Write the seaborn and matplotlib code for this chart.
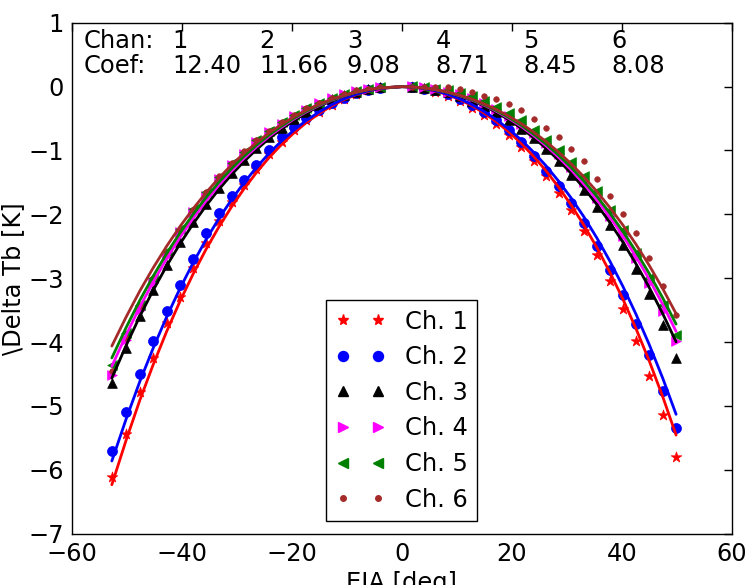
import numpy as np
import pandas as pd
import matplotlib
matplotlib.use("Agg")
import matplotlib.pyplot as plt
from matplotlib.lines import Line2D
import seaborn as sns

# ---------------- data ----------------
angles = [-52.8, -50.2, -47.7, -45.3, -42.8, -40.4, -38.0, -35.7, -33.3, -31.0, -28.8,
          -26.5, -24.2, -21.9, -19.6, -17.4, -15.1, -12.8, -10.6, -8.4, -6.2, -4.0,
          1.8, 4.0, 6.1, 8.3, 10.5, 12.7, 14.9, 17.2, 19.5, 21.7, 24.0, 26.2, 28.5,
          30.8, 33.1, 35.5, 37.8, 40.2, 42.6, 45.0, 47.5, 49.9]

ch1 = [-6.12, -5.44, -4.79, -4.25, -3.71, -3.29, -2.84, -2.45, -2.10, -1.80, -1.54,
       -1.29, -1.06, -0.87, -0.68, -0.53, -0.39, -0.28, -0.19, -0.12, -0.06, -0.02,
       -0.01, -0.03, -0.08, -0.14, -0.22, -0.33, -0.44, -0.59, -0.76, -0.95, -1.16,
       -1.40, -1.66, -1.93, -2.26, -2.63, -3.04, -3.49, -3.98, -4.53, -5.15, -5.80]
ch2 = [-5.70, -5.09, -4.50, -3.98, -3.51, -3.11, -2.70, -2.30, -1.98, -1.71, -1.46,
       -1.22, -1.00, -0.79, -0.63, -0.49, -0.36, -0.25, -0.17, -0.10, -0.05, -0.02,
       -0.01, -0.03, -0.06, -0.12, -0.19, -0.28, -0.39, -0.52, -0.68, -0.86, -1.09,
       -1.32, -1.56, -1.83, -2.13, -2.50, -2.87, -3.27, -3.72, -4.20, -4.77, -5.35]
ch3 = [-4.64, -4.10, -3.60, -3.18, -2.79, -2.44, -2.12, -1.84, -1.58, -1.35, -1.15,
       -0.96, -0.79, -0.64, -0.51, -0.39, -0.29, -0.20, -0.13, -0.08, -0.04, -0.01,
       0.00, -0.02, -0.05, -0.09, -0.15, -0.22, -0.30, -0.40, -0.52, -0.66, -0.81,
       -0.98, -1.17, -1.38, -1.62, -1.89, -2.17, -2.48, -2.85, -3.25, -3.74, -4.25]
ch4 = [-4.51, -3.97, -3.50, -3.07, -2.65, -2.28, -1.97, -1.71, -1.45, -1.23, -1.05,
       -0.87, -0.71, -0.58, -0.46, -0.36, -0.26, -0.18, -0.12, -0.07, -0.04, -0.01,
       0.01, -0.01, -0.04, -0.08, -0.12, -0.18, -0.26, -0.35, -0.46, -0.58, -0.72,
       -0.88, -1.06, -1.26, -1.49, -1.75, -2.03, -2.34, -2.68, -3.07, -3.52, -3.98]
ch5 = [-4.36, -3.86, -3.42, -2.99, -2.58, -2.23, -1.92, -1.65, -1.41, -1.19, -1.02,
       -0.84, -0.69, -0.56, -0.44, -0.34, -0.25, -0.18, -0.12, -0.07, -0.04, -0.01,
       0.01, 0.00, -0.03, -0.06, -0.10, -0.15, -0.22, -0.32, -0.42, -0.52, -0.68,
       -0.83, -0.99, -1.18, -1.40, -1.64, -1.93, -2.25, -2.60, -3.00, -3.42, -3.89]
ch6 = [-4.46, -3.93, -3.43, -3.00, -2.61, -2.25, -1.93, -1.65, -1.40, -1.19, -1.01,
       -0.84, -0.69, -0.56, -0.44, -0.34, -0.25, -0.17, -0.11, -0.06, -0.03, -0.01,
       0.00, 0.00, 0.00, -0.01, -0.04, -0.09, -0.14, -0.20, -0.27, -0.37, -0.51,
       -0.64, -0.79, -0.97, -1.17, -1.44, -1.72, -2.00, -2.30, -2.69, -3.12, -3.58]

channels = ["1", "2", "3", "4", "5", "6"]
coefs = [12.40, 11.66, 9.08, 8.71, 8.45, 8.08]
labels = ["Ch. 1", "Ch. 2", "Ch. 3", "Ch. 4", "Ch. 5", "Ch. 6"]

# normalized shape of the fitted curves (per unit coefficient)
fit_angles = [-52.8, -50.2, -47.7, -45.3, -42.8, -40.4, -38.0, -35.7, -33.3, -31.0, -28.8,
              -26.5, -24.2, -21.9, -19.6, -17.4, -15.1, -12.8, -10.6, -8.4, -6.2, -4.0,
              0.0, 1.8, 4.0, 6.1, 8.3, 10.5, 12.7, 14.9, 17.2, 19.5, 21.7, 24.0, 26.2,
              28.5, 30.8, 33.1, 35.5, 37.8, 40.2, 42.6, 45.0, 47.5, 49.9]
fit_shape = [0.5029, 0.4466, 0.3960, 0.3517, 0.3089, 0.2712, 0.2366, 0.2061, 0.1770,
             0.1517, 0.1296, 0.1087, 0.0897, 0.0730, 0.0580, 0.0454, 0.0341, 0.0243,
             0.0166, 0.0104, 0.0057, 0.0024, 0.0, 0.0005, 0.0024, 0.0055, 0.0102,
             0.0163, 0.0239, 0.0331, 0.0444, 0.0574, 0.0715, 0.0883, 0.1061, 0.1268,
             0.1496, 0.1747, 0.2035, 0.2338, 0.2681, 0.3057, 0.3463, 0.3923, 0.4402]

# ---------------- style ----------------
colors = ["#ff0000", "#0000ff", "#000000", "#ff00ff", "#008000", "#a52a2a"]
markers = ["*", "o", "^", ">", "<", "."]
msizes = [8, 7.2, 7, 7, 7, 8]

sns.set_style("white")
plt.rcParams["font.family"] = ["DejaVu Sans"]
plt.rcParams["text.color"] = "black"
plt.rcParams["axes.labelcolor"] = "black"
plt.rcParams["xtick.color"] = "black"
plt.rcParams["ytick.color"] = "black"
FS = 17.4

fig = plt.figure(figsize=(7.45, 5.85), dpi=100)
ax = fig.add_axes([0.097, 0.088, 0.885, 0.873])

series = [ch1, ch2, ch3, ch4, ch5, ch6]

# points
for i, vals in enumerate(series):
    df = pd.DataFrame({"eia": angles, "dtb": vals})
    m = markers[i]
    if m == ".":
        s = (msizes[i] * 0.5) ** 2
        mk = "o"
    else:
        s = msizes[i] ** 2
        mk = m
    sns.scatterplot(data=df, x="eia", y="dtb", marker=mk, s=s, color=colors[i],
                    edgecolor=colors[i], linewidth=0.5, ax=ax, zorder=2, legend=False)

# fitted curves
for i, c in enumerate(coefs):
    dff = pd.DataFrame({"eia": fit_angles, "fit": [-c * g for g in fit_shape]})
    sns.lineplot(data=dff, x="eia", y="fit", color=colors[i], lw=2.0, sort=False,
                 estimator=None, ax=ax, zorder=3, legend=False)

ax.set_xlim(-60, 60)
ax.set_ylim(-7, 1)
ax.set_xticks([-60, -40, -20, 0, 20, 40, 60])
ax.set_yticks(list(range(-7, 2)))
ax.tick_params(direction="in", top=True, right=True, length=5.5, width=1,
               labelsize=FS, pad=6, color="black", labelcolor="black")
for sp in ax.spines.values():
    sp.set_visible(True)
    sp.set_color("black")
    sp.set_linewidth(1.0)

ax.set_xlabel("EIA [deg]", fontsize=FS, labelpad=4, color="black")
ax.set_ylabel("\\Delta Tb [K]", fontsize=FS, labelpad=2, color="black")

# coefficient table text
col_x = [-41.7, -25.9, -10.05, 6.1, 22.1, 38.1]
ax.text(-58.0, 0.598, "Chan:", fontsize=FS, va="baseline", ha="left", color="black")
ax.text(-58.0, 0.216, "Coef:", fontsize=FS, va="baseline", ha="left", color="black")
for x, ch, c in zip(col_x, channels, coefs):
    ax.text(x, 0.598, ch, fontsize=FS, va="baseline", ha="left", color="black")
    ax.text(x, 0.216, f"{c:.2f}", fontsize=FS, va="baseline", ha="left", color="black")

# legend
handles = []
for i in range(6):
    handles.append(Line2D([], [], linestyle="none", marker=markers[i], color=colors[i],
                          markeredgecolor=colors[i], markersize=msizes[i]))
leg = ax.legend(handles, labels, loc="lower center", bbox_to_anchor=(0.5, 0.024),
                borderaxespad=0, numpoints=2, fontsize=FS, frameon=True,
                fancybox=False, labelspacing=0.48, handlelength=2.05,
                handletextpad=0.8, borderpad=0.4)
leg.get_frame().set_edgecolor("black")
leg.get_frame().set_linewidth(1.0)
leg.get_frame().set_alpha(1)
for t in leg.get_texts():
    t.set_color("black")

fig.savefig("out.png", dpi=100, facecolor="white")
